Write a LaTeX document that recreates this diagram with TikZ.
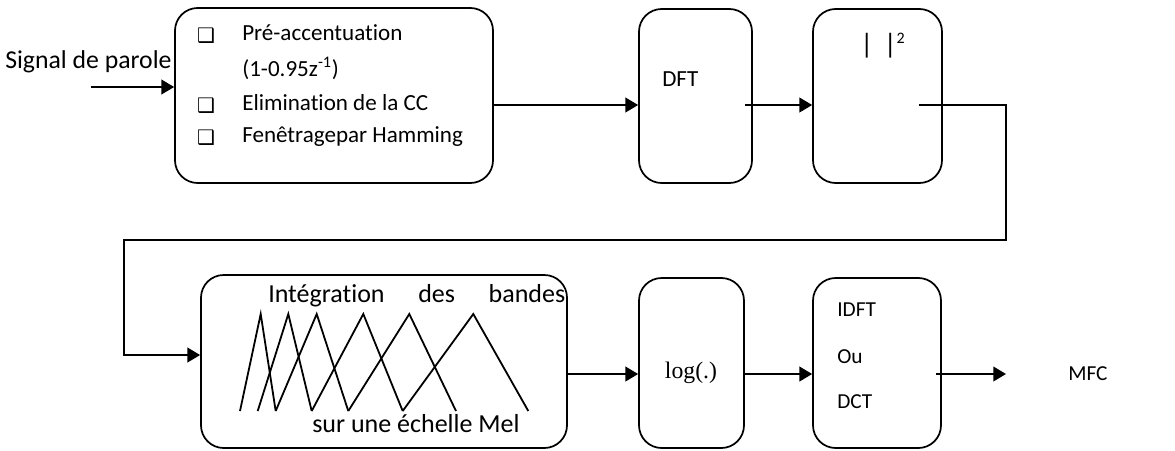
\documentclass[tikz,border=0pt]{standalone}
\usepackage{fontspec}
\setmainfont{Carlito}[Ligatures={NoCommon}]
\newfontfamily\timesfont{Liberation Serif}
\newfontfamily\symfont{DejaVu Sans}
\usetikzlibrary{arrows.meta,calc}

\begin{document}
\begin{tikzpicture}[x=0.75pt,y=-0.75pt,
  blk/.style={draw,line width=1.3pt,rounded corners=17pt,inner sep=0pt},
  conn/.style={line width=1.3pt},
  arr/.style={conn,-{Triangle[length=9.5pt,width=11pt]}},
  band/.style={line width=1.35pt,line join=miter},
  lbl/.style={inner sep=0pt,anchor=base west},
  fbig/.style={font=\fontsize{19.3}{22}\selectfont},
  fmid/.style={font=\fontsize{17.3}{20}\selectfont},
  fsml/.style={font=\fontsize{16}{19}\selectfont},
  bul/.style={inner sep=0pt,anchor=base,font=\symfont\fontsize{15}{17}\selectfont},
]
\useasboundingbox (0,0) rectangle (1175,450);

% processing blocks
\node[blk,minimum width=238.5pt,minimum height=131.25pt] (b1) at (334,95.5) {};
\node[blk,minimum width=84.75pt,minimum height=130.5pt]  (b2) at (695.5,96) {};
\node[blk,minimum width=96.75pt,minimum height=130.5pt]  (b3) at (877.5,96) {};
\node[blk,minimum width=274.5pt,minimum height=129.75pt] (b4) at (384,361.5) {};
\node[blk,minimum width=78.75pt,minimum height=127.5pt]  (b5) at (691.5,363) {};
\node[blk,minimum width=96pt,minimum height=127.5pt]     (b6) at (877,363) {};

% input label
\node[lbl,fbig] (sig) at (5,68) {Signal de parole};

% pre-processing list
\node[bul] (k1) at (206,42) {❑};
\node[bul] (k2) at (206,112) {❑};
\node[bul] (k3) at (206,144) {❑};
\node[lbl,fmid] (t1) at (242,40) {Pré-accentuation};
\node[lbl,fmid] (t2) at (242,76) {(1-0.95z\textsuperscript{-1})};
\node[lbl,fmid] (t3) at (242,110) {Elimination de la CC};
\node[lbl,fmid] (t4) at (242,142) {Fenêtragepar Hamming};

% block labels
\node[lbl,fmid] (dft) at (662,86) {DFT};
\node[lbl,font=\fontsize{21}{24}\selectfont] (mag) at (860,53)
  {|\hspace{8pt}|\raisebox{7pt}{\fontsize{12}{14}\selectfont 2}};
\node[lbl,font=\fontsize{19.5}{22}\selectfont] (int) at (268,302)
  {\hbox to 222.75pt{Intégration\hfill des\hfill bandes}};
\node[lbl,font=\fontsize{19.5}{22}\selectfont] (mel) at (312,432) {sur une échelle Mel};
\node[inner sep=0pt,font=\timesfont\fontsize{17.8}{20}\selectfont] (log) at (691,373) {log(.)};
\node[lbl,fsml] (idft) at (837,316) {IDFT};
\node[lbl,fsml] (ou)   at (837,363) {Ou};
\node[lbl,fsml] (dct)  at (837,408) {DCT};
\node[lbl,fsml] (mfc)  at (1068,380) {MFC};

% triangular Mel filter bank
\draw[band] (240,411) -- (260.7,314) -- (275.7,411);
\draw[band] (257.7,411) -- (288.3,314) -- (311.7,411);
\draw[band] (275.7,411) -- (316.7,314) -- (348.3,411);
\draw[band] (311.7,411) -- (363.3,314) -- (402.7,411);
\draw[band] (348.3,411) -- (409.3,314) -- (456,411);
\draw[band] (402.7,411) -- (473.3,314) -- (528.3,411);

% connectors
\coordinate (src) at (91,87);
\coordinate (r1) at (1006,105);
\coordinate (r2) at (1006,240);
\coordinate (r3) at (124,240);
\coordinate (dst) at (1006,374);

\draw[arr] (src) -- (src -| b1.west);
\draw[arr] ($(b1.east)+(0,9.5)$) -- ($(b2.west)+(0,9)$);
\draw[arr] ($(b2.east)+(-8,9)$) -- ($(b3.west)+(0,9)$);
\draw[arr] ($(b3.east)+(-24,9)$) -- (r1) -- (r2) -- (r3) |- ($(b4.west)+(0,-6.5)$);
\draw[arr] ($(b4.east)+(0,12.5)$) -- ($(b5.west)+(0,11)$);
\draw[arr] ($(b5.east)+(0,11)$) -- ($(b6.west)+(0,11)$);
\draw[arr] ($(b6.east)+(-6,11)$) -- (dst);
\end{tikzpicture}
\end{document}
